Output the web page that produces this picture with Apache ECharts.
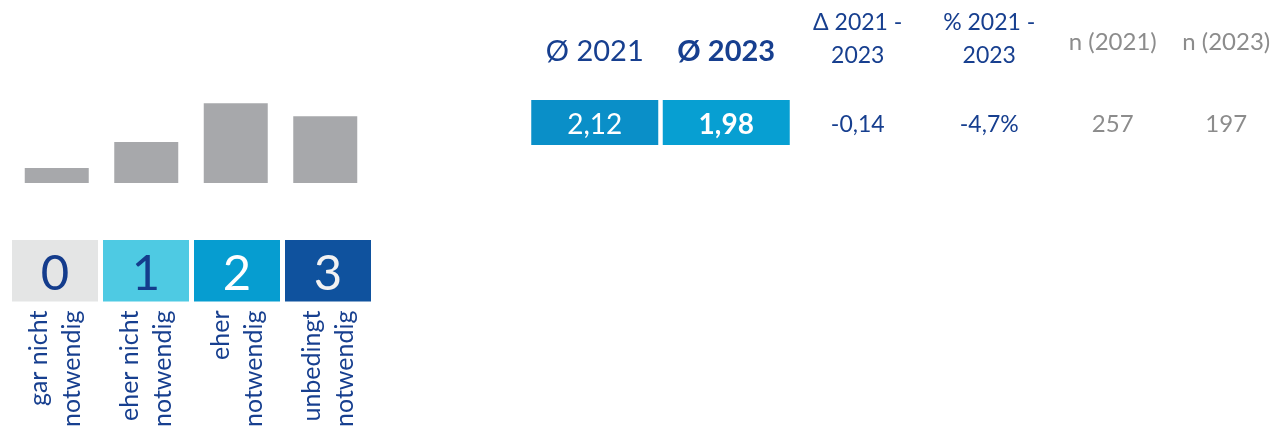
<!DOCTYPE html>
<html lang="de" style="height: 100%">
<head>
<meta charset="utf-8">
<title>Verteilung und Mittelwerte</title>
</head>
<body style="height: 100%; margin: 0; background: #fff">
<div id="container" style="height: 100%"></div>

<script type="text/javascript" src="https://cdn.jsdelivr.net/npm/echarts/dist/echarts.min.js"></script>

<script type="text/javascript">

// distribution 2023 in % (scale 0..3)
const scaleCodes = ['0', '1', '2', '3'];
const scaleLabels = ['gar nicht\nnotwendig', 'eher nicht\nnotwendig', 'eher\nnotwendig', 'unbedingt\nnotwendig'];
const shares = [7.4, 20.2, 39.4, 33.0];

// summary table
const tableHeaders = ['Ø 2021', 'Ø 2023', 'Δ 2021 -\n2023', '% 2021 -\n2023'];
const means = [2.12, 1.98];
const delta = -0.14;
const deltaPct = -4.7;
const nHeaders = ['n (2021)', 'n (2023)'];
const nValues = [257, 197];

const FONT = 'Lato';
const BLUE = '#173f8f';
const GREY_TXT = '#8c8c8c';
const scaleColors = ['#e4e5e5', '#4ecae3', '#069dd0', '#0f529e'];
const scaleTextColors = ['#143c8c', '#143c8c', '#ffffff', '#f2f2f2'];

const de = (v, d) => v.toFixed(d).replace('.', ',');

var dom = document.getElementById('container');
var myChart = echarts.init(dom, null, {width: 1283, height: 430});

const tableValues = [de(means[0], 2), de(means[1], 2), de(delta, 2), de(deltaPct, 1) + '%'];

var option = {
    animation: false,
    textStyle: {fontFamily: FONT},
    grid: [
        {left: 12, width: 358, top: 100, height: 83},      // distribution bars
        {left: 9.5, width: 364, top: 240, height: 63},     // scale boxes
        {left: 529, width: 526, top: 100, height: 45},     // table (means, deltas)
        {left: 1056, width: 236, top: 100, height: 45}     // table (n)
    ],
    xAxis: [
        {gridIndex: 0, type: 'category', data: scaleCodes, show: false},
        {
            gridIndex: 1, type: 'category', data: scaleLabels,
            axisLine: {show: false}, axisTick: {show: false},
            axisLabel: {
                rotate: 90, margin: 9, fontSize: 25, lineHeight: 33,
                color: BLUE, fontFamily: FONT, align: 'right', interval: 0
            }
        },
        {
            gridIndex: 2, type: 'category', data: tableHeaders, position: 'top',
            axisLine: {show: false}, axisTick: {show: false},
            axisLabel: {
                interval: 0, margin: 28,
                formatter: function (v, i) {
                    if (i === 0) return '{big|' + v + '}';
                    if (i === 1) return '{bold|' + v + '}';
                    return v.split('\n').map(function (s) { return '{small|' + s + '}'; }).join('\n');
                },
                rich: {
                    big: {fontSize: 29, color: BLUE, fontFamily: FONT, lineHeight: 41},
                    bold: {fontSize: 29, color: BLUE, fontFamily: FONT, fontWeight: 'bold', lineHeight: 41},
                    small: {fontSize: 23, color: BLUE, fontFamily: FONT, lineHeight: 33}
                }
            }
        },
        {
            gridIndex: 3, type: 'category', data: nHeaders, position: 'top',
            axisLine: {show: false}, axisTick: {show: false},
            axisLabel: {interval: 0, margin: 46, fontSize: 24, color: GREY_TXT, fontFamily: FONT}
        }
    ],
    yAxis: [
        {gridIndex: 0, type: 'value', min: 0, max: 41, show: false},
        {gridIndex: 1, type: 'value', min: 0, max: 1, show: false},
        {gridIndex: 2, type: 'value', min: 0, max: 1, show: false},
        {gridIndex: 3, type: 'value', min: 0, max: 1, show: false}
    ],
    series: [
        {
            type: 'bar', xAxisIndex: 0, yAxisIndex: 0, barWidth: 64,
            itemStyle: {color: '#a7a8ab'},
            data: shares
        },
        {
            type: 'bar', xAxisIndex: 1, yAxisIndex: 1, barWidth: 86,
            data: scaleCodes.map(function (c, i) {
                return {
                    value: 1,
                    itemStyle: {color: scaleColors[i]},
                    label: {
                        show: true, position: 'inside', formatter: c, offset: [0, 3],
                        fontSize: 49, color: scaleTextColors[i], fontFamily: FONT
                    }
                };
            })
        },
        {
            type: 'bar', xAxisIndex: 2, yAxisIndex: 2, barWidth: 127,
            data: tableValues.map(function (t, i) {
                var boxed = i < 2;
                return {
                    value: 1,
                    itemStyle: {color: i === 0 ? '#0a8fc8' : (i === 1 ? '#079fd2' : 'rgba(0,0,0,0)')},
                    label: {
                        show: true, position: 'inside', formatter: t, offset: [0, 2],
                        fontSize: boxed ? 28 : 23,
                        fontWeight: i === 1 ? 'bold' : 'normal',
                        color: boxed ? '#ffffff' : BLUE, fontFamily: FONT
                    }
                };
            })
        },
        {
            type: 'bar', xAxisIndex: 3, yAxisIndex: 3, barWidth: 100,
            itemStyle: {color: 'rgba(0,0,0,0)'},
            label: {
                show: true, position: 'inside', offset: [0, 2], fontSize: 24, color: GREY_TXT, fontFamily: FONT,
                formatter: function (p) { return String(nValues[p.dataIndex]); }
            },
            data: nValues.map(function () { return 1; })
        }
    ]
};

myChart.setOption(option);
window.addEventListener('resize', myChart.resize);
</script>
</body>
</html>
